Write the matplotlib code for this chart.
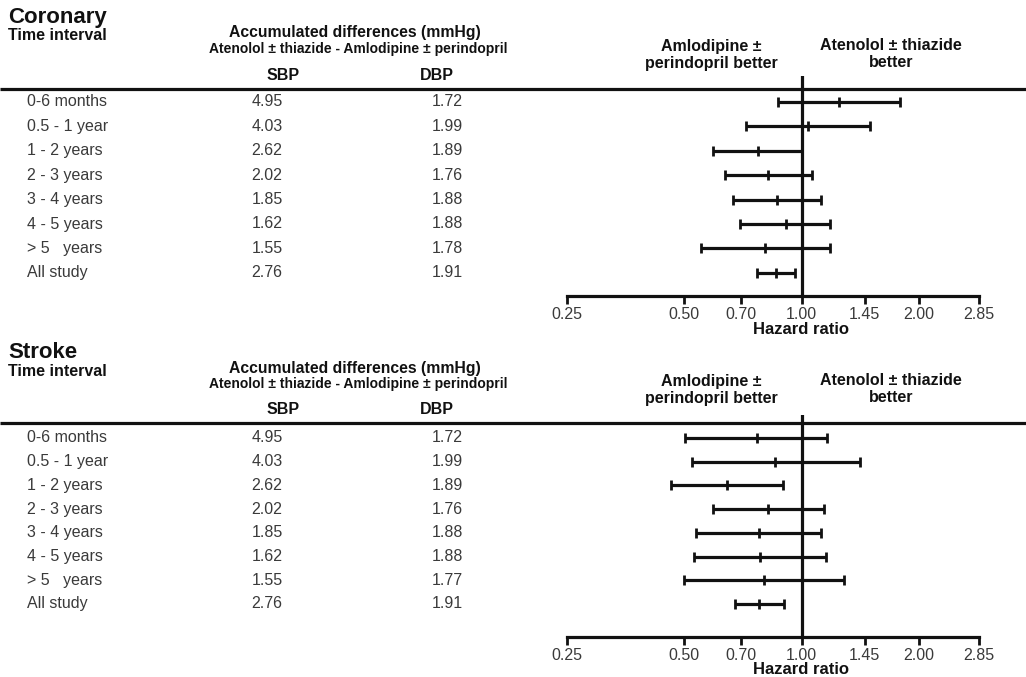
import matplotlib
matplotlib.use("Agg")
import matplotlib.pyplot as plt
from matplotlib.ticker import NullLocator
import numpy as np

plt.rcParams['font.family'] = ['Liberation Sans', 'DejaVu Sans']

intervals = ["0-6 months", "0.5 - 1 year", "1 - 2 years", "2 - 3 years",
             "3 - 4 years", "4 - 5 years", "> 5   years", "All study"]
sbp = ["4.95", "4.03", "2.62", "2.02", "1.85", "1.62", "1.55", "2.76"]
dbp_coronary = ["1.72", "1.99", "1.89", "1.76", "1.88", "1.88", "1.78", "1.91"]
dbp_stroke = ["1.72", "1.99", "1.89", "1.76", "1.88", "1.88", "1.77", "1.91"]

# hazard ratios with 95% CI
cor_hr = [1.245, 1.04, 0.774, 0.82, 0.864, 0.91, 0.806, 0.861]
cor_lo = [0.87, 0.72, 0.593, 0.635, 0.667, 0.694, 0.553, 0.767]
cor_hi = [1.79, 1.50, 1.00, 1.06, 1.12, 1.185, 1.18, 0.963]

str_hr = [0.767, 0.855, 0.644, 0.82, 0.777, 0.783, 0.801, 0.777]
str_lo = [0.502, 0.522, 0.463, 0.591, 0.537, 0.529, 0.498, 0.673]
str_hi = [1.16, 1.41, 0.898, 1.138, 1.12, 1.154, 1.286, 0.903]

hr_ticks = [0.25, 0.50, 0.70, 1.00, 1.45, 2.00, 2.85]

W, H = 1026, 677
fig = plt.figure(figsize=(W / 100, H / 100), dpi=100)
tab = fig.add_axes([0, 0, 1, 1])
tab.set_xlim(0, W)
tab.set_ylim(H, 0)
tab.axis("off")

INK = "#111111"
GREY = "#3a3a3a"
BODY = 11.5


def draw_panel(title, dbp, hr, lo, hi, y0, line_y, axis_y, vtop, row0, row_sp):
    # headings
    tab.text(8, y0, title, fontsize=16, fontweight="bold", va="center", color=INK)
    tab.text(8, y0 + 19, "Time interval", fontsize=11.5, fontweight="bold", va="center", color=INK)
    tab.text(355, y0 + 16, "Accumulated differences (mmHg)", fontsize=11.3, fontweight="bold",
             ha="center", va="center", color=INK)
    tab.text(358, y0 + 32, "Atenolol \u00b1 thiazide - Amlodipine \u00b1 perindopril", fontsize=10,
             fontweight="bold", ha="center", va="center", color=INK)
    tab.text(283, line_y - 14, "SBP", fontsize=11.5, fontweight="bold", ha="center", va="center", color=INK)
    tab.text(437, line_y - 14, "DBP", fontsize=11.5, fontweight="bold", ha="center", va="center", color=INK)
    tab.text(711, y0 + 38, "Amlodipine \u00b1\nperindopril better", fontsize=11.5, fontweight="bold",
             ha="center", va="center", linespacing=1.1, color=INK)
    tab.text(891, y0 + 37, "Atenolol \u00b1 thiazide\nbetter", fontsize=11.5, fontweight="bold",
             ha="center", va="center", linespacing=1.1, color=INK)
    tab.plot([0, W], [line_y, line_y], color=INK, lw=2.3, solid_capstyle="butt")

    rows = row0 + row_sp * np.arange(len(intervals))
    for y, lab, s, d in zip(rows, intervals, sbp, dbp):
        tab.text(27, y, lab, fontsize=BODY, va="center", color=GREY)
        tab.text(267, y, s, fontsize=BODY, va="center", ha="center", color=GREY)
        tab.text(447, y, d, fontsize=BODY, va="center", ha="center", color=GREY)

    # forest plot
    x0, x1 = 567, 979
    ax = fig.add_axes([x0 / W, 1 - axis_y / H, (x1 - x0) / W, (axis_y - vtop) / H])
    ax.patch.set_alpha(0)
    ax.set_xscale("log")
    ax.set_xlim(hr_ticks[0], hr_ticks[-1])
    ax.set_ylim(axis_y, vtop)
    hr = np.array(hr)
    ax.errorbar(hr, rows, xerr=[hr - np.array(lo), np.array(hi) - hr], fmt="|", color=INK,
                ms=7, mew=2, elinewidth=2.3, capsize=3.5, capthick=2)
    ax.axvline(1.0, color=INK, lw=2.3)
    for side in ("top", "right", "left"):
        ax.spines[side].set_visible(False)
    ax.spines["bottom"].set_linewidth(2.3)
    ax.spines["bottom"].set_color(INK)
    ax.set_xticks(hr_ticks)
    ax.set_xticklabels([f"{t:.2f}" for t in hr_ticks])
    ax.xaxis.set_minor_locator(NullLocator())
    ax.set_yticks([])
    ax.tick_params(axis="x", length=6, width=2, color=INK, labelsize=BODY, labelcolor=GREY, pad=2)
    tab.text(801, axis_y + 33, "Hazard ratio", fontsize=12, fontweight="bold", ha="center",
             va="center", color=INK)


draw_panel("Coronary", dbp_coronary, cor_hr, cor_lo, cor_hi,
           y0=17, line_y=89, axis_y=296, vtop=76, row0=102, row_sp=24.4)
draw_panel("Stroke", dbp_stroke, str_hr, str_lo, str_hi,
           y0=352, line_y=423, axis_y=637, vtop=415, row0=438, row_sp=23.7)

fig.savefig("out.png", dpi=100)
